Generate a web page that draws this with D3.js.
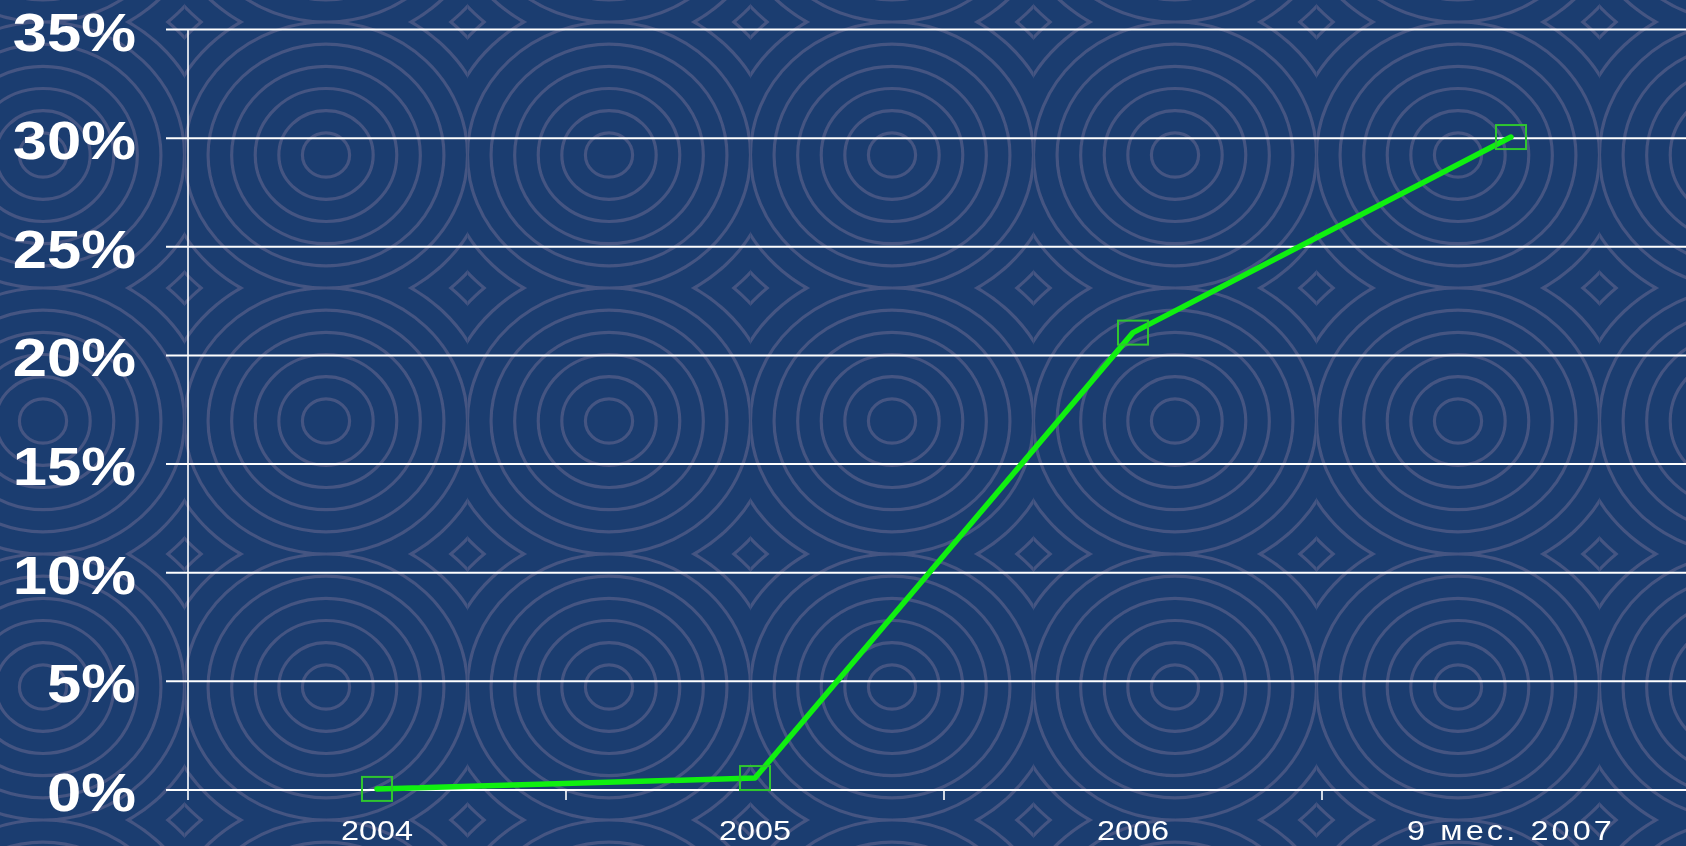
<!DOCTYPE html>
<html><head><meta charset="utf-8">
<script src="https://cdn.jsdelivr.net/npm/d3@7"></script>
<style>html,body{margin:0;padding:0;background:#1b3d70;overflow:hidden}</style>
</head><body>
<script>
const categories = ["2004", "2005", "2006", "9 мес. 2007"];
const values = [0.05, 0.55, 21.05, 30.05];
const yTicks = [0, 5, 10, 15, 20, 25, 30, 35];
const yTickLabels = ["0%", "5%", "10%", "15%", "20%", "25%", "30%", "35%"];

const W = 1686, H = 846;
const svg = d3.select("body").append("svg").attr("width", W).attr("height", H);
const defs = svg.append("defs");
defs.append("filter").attr("id", "soft").append("feGaussianBlur").attr("stdDeviation", 0.7);

// background
svg.append("rect").attr("width", W).attr("height", H).attr("fill", "#1b3d70");
const bg = svg.append("g").attr("filter", "url(#soft)");
const cx0 = 326, cdx = 283, cy0 = 155, cdy = 266, ringStep = 22.17, sx = 283 / 266;
let cid = 0;
for (let i = -1; i <= 5; i++) {
  for (let j = -1; j <= 3; j++) {
    const cx = cx0 + i * cdx, cy = cy0 + j * cdy;
    const id = "clip" + (cid++);
    defs.append("clipPath").attr("id", id).append("rect")
      .attr("x", cx - cdx / 2).attr("y", cy - cdy / 2).attr("width", cdx).attr("height", cdy);
    const g = bg.append("g").attr("clip-path", `url(#${id})`);
    for (let k = 1; k <= 8; k++) {
      g.append("ellipse").attr("cx", cx).attr("cy", cy)
        .attr("rx", ringStep * k * sx).attr("ry", ringStep * k)
        .attr("fill", "none").attr("stroke", "#445482").attr("stroke-width", 3.2);
    }
  }
}

// scales
const x = d3.scaleBand().domain(categories).range([188, 1700]);
const y = d3.scaleLinear().domain([0, 35]).range([790, 29.5]);

// gridlines
svg.append("g").selectAll("line").data(yTicks).join("line")
  .attr("x1", 166).attr("x2", W).attr("y1", d => y(d)).attr("y2", d => y(d))
  .attr("stroke", "#ffffff").attr("stroke-width", 2);

// y axis line
svg.append("line").attr("x1", 188).attr("x2", 188).attr("y1", y(35)).attr("y2", y(0) + 10)
  .attr("stroke", "#ffffff").attr("stroke-width", 1.6);

// x ticks at band boundaries
svg.append("g").selectAll("line").data(categories.slice(1)).join("line")
  .attr("x1", d => x(d)).attr("x2", d => x(d)).attr("y1", y(0)).attr("y2", y(0) + 10)
  .attr("stroke", "#ffffff").attr("stroke-width", 1.6);

// y labels
svg.append("g").selectAll("text").data(yTicks).join("text")
  .attr("transform", d => `translate(136,${y(d) + 21}) scale(1.14,1)`)
  .attr("text-anchor", "end")
  .attr("font-family", "'Liberation Sans', Arial, sans-serif")
  .attr("font-weight", "bold").attr("font-size", 54).attr("fill", "#ffffff")
  .text((d, i) => yTickLabels[i]);

// x labels
svg.append("g").selectAll("text").data(categories).join("text")
  .attr("transform", d => `translate(${x(d) + x.bandwidth() / 2},840) scale(1.2,1)`)
  .attr("text-anchor", "middle")
  .attr("font-family", "'Liberation Sans', Arial, sans-serif")
  .attr("font-size", 27).attr("fill", "#ffffff")
  .attr("letter-spacing", d => d.length > 4 ? 2.6 : 0)
  .text(d => d);

// line
const pts = categories.map((c, i) => [x(c) + x.bandwidth() / 2, y(values[i])]);
svg.append("path").attr("d", d3.line()(pts))
  .attr("fill", "none").attr("stroke", "#10f010").attr("stroke-width", 5.5)
  .attr("stroke-linejoin", "round").attr("stroke-linecap", "round");

// markers
svg.append("g").selectAll("rect").data(pts).join("rect")
  .attr("x", d => d[0] - 15).attr("y", d => d[1] - 12)
  .attr("width", 30).attr("height", 24)
  .attr("fill", "none").attr("stroke", "#2fc62f").attr("stroke-width", 2);
</script>
</body></html>
